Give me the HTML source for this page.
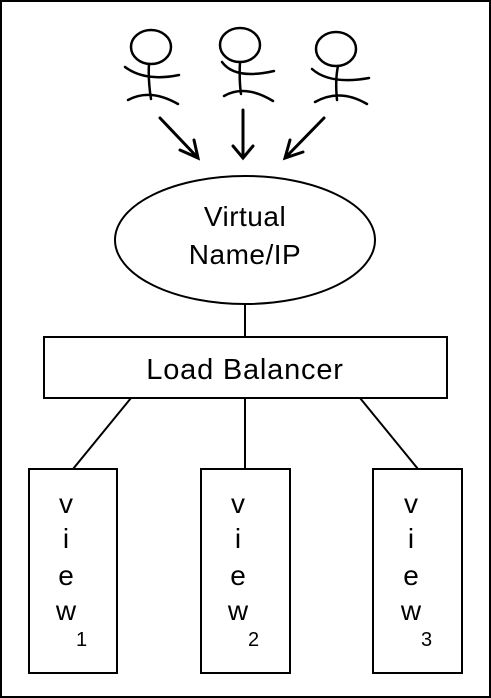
<!DOCTYPE html><html><head><style>body{margin:0;background:#fff}svg{display:block}text{font-family:"Liberation Sans",sans-serif;fill:#000}</style></head><body>
<svg width="491" height="698" viewBox="0 0 491 698">
<rect x="1" y="1" width="489" height="696" fill="#fff" stroke="#000" stroke-width="2"/>
<g fill="none" stroke="#000" stroke-width="2.5" stroke-linecap="round">
<ellipse cx="151" cy="47" rx="20" ry="17"/>
<path d="M149 64 Q148 80 151 99 M125 67 Q145 82 179 75 M128 100 Q150 88 178 104"/>
<ellipse cx="240" cy="45" rx="20" ry="17"/>
<path d="M240 62 Q239 80 241 94 M222 62 Q235 80 274 71 M224 96 Q245 84 273 101"/>
<ellipse cx="336" cy="49" rx="20" ry="17"/>
<path d="M338 66 Q335 80 337 100 M312 69 Q330 85 369 78 M315 102 Q340 88 367 104"/>
<path d="M160 118 L198 158 M180 150 L198 158 L194 140" stroke-width="3"/>
<path d="M243 110 L243 158 M233 146 L243 158 L253 146" stroke-width="3"/>
<path d="M324 118 L285 158 M290 140 L285 158 L303 152" stroke-width="3"/>
</g>
<g fill="#fff" stroke="#000" stroke-width="2">
<ellipse cx="245" cy="240" rx="130" ry="64"/>
<line x1="245" y1="304" x2="245" y2="337"/>
<rect x="44" y="337" width="403" height="61"/>
<line x1="131" y1="398" x2="73" y2="469"/>
<line x1="245" y1="398" x2="245" y2="469"/>
<line x1="360" y1="398" x2="418" y2="469"/>
<rect x="29" y="469" width="88" height="204"/>
<rect x="201" y="469" width="89" height="204"/>
<rect x="373" y="469" width="89" height="204"/>
</g>
<text x="245" y="226" font-size="28" text-anchor="middle" letter-spacing="0.5">Virtual</text>
<text x="245" y="264" font-size="28" text-anchor="middle" letter-spacing="0.5">Name/IP</text>
<text x="245" y="379" font-size="29" text-anchor="middle" letter-spacing="0.8">Load Balancer</text>
<g font-size="28" text-anchor="middle">
<text x="66" y="513">v</text><text x="66" y="548">i</text><text x="66" y="585">e</text><text x="66" y="620">w</text>
<text x="238" y="513">v</text><text x="238" y="548">i</text><text x="238" y="585">e</text><text x="238" y="620">w</text>
<text x="411" y="513">v</text><text x="411" y="548">i</text><text x="411" y="585">e</text><text x="411" y="620">w</text>
</g>
<g font-size="20">
<text x="76" y="646">1</text><text x="248" y="646">2</text><text x="421" y="646">3</text>
</g>
</svg></body></html>
